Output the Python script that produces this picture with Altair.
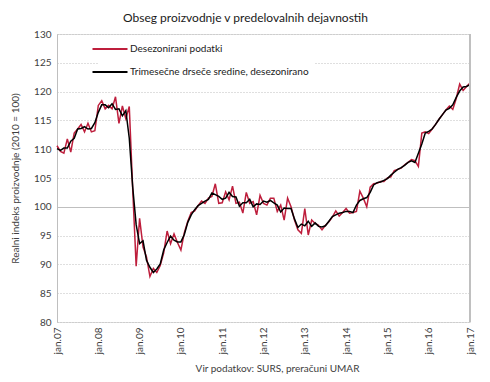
import altair as alt
import pandas as pd

tick_labels = ["jan.07", "jan.08", "jan.09", "jan.10", "jan.11", "jan.12",
               "jan.13", "jan.14", "jan.15", "jan.16", "jan.17"]
y_ticks = [80, 85, 90, 95, 100, 105, 110, 115, 120, 125, 130]
series_names = ["Desezonirani podatki", "Trimesečne drseče sredine, desezonirano"]

# month index 0 = jan.07 ... 120 = jan.17
months = list(range(121))

desezonirani = [
    110.6, 109.6, 109.3, 111.8, 109.5, 112.8, 113.5, 114.3, 113.0, 114.5, 113.0, 113.2,
    117.6, 118.4, 117.0, 117.6, 117.0, 119.1, 114.5, 117.5, 115.3, 117.4, 103.0, 89.7,
    98.0, 93.0, 91.3, 87.9, 89.3, 88.6, 89.8, 92.0, 95.8, 93.6, 95.3, 93.8,
    92.5, 95.5, 97.5, 99.0, 99.3, 100.2, 101.0, 100.6, 101.5, 101.8, 104.0, 100.6,
    100.7, 102.6, 101.2, 103.6, 100.6, 100.8, 98.9, 102.5, 100.6, 100.9, 98.6, 102.0,
    100.6, 100.3, 101.5, 101.5, 99.2, 100.3, 97.7, 101.5, 100.0, 97.7, 96.0, 95.4,
    99.7, 95.1, 97.7, 97.1, 96.8, 96.0, 96.8, 97.4, 98.2, 99.3, 98.4, 99.0,
    99.7, 98.9, 99.0, 99.2, 102.7, 101.5, 100.0, 103.4, 104.0, 104.1, 104.4, 104.4,
    105.0, 105.2, 106.3, 106.5, 106.7, 107.3, 107.7, 108.2, 108.0, 107.0, 112.8, 113.0,
    112.7, 113.5, 114.3, 115.2, 116.0, 116.8, 117.5, 116.9, 118.8, 121.3, 120.2, 120.9,
    121.5,
]

trimesecne = [
    110.1, 109.8, 110.2, 110.2, 111.4, 111.9, 113.5, 113.6, 113.9, 113.5, 113.6, 114.6,
    116.4, 117.7, 117.7, 117.2, 117.9, 116.9, 117.0, 115.8, 116.7, 111.9, 103.4, 96.9,
    93.6, 94.1, 90.7, 89.5, 88.6, 89.2, 90.1, 92.5, 93.8, 94.9, 94.2, 93.9,
    93.9, 95.2, 97.3, 98.6, 99.5, 100.2, 100.6, 101.0, 101.3, 102.4, 102.1, 101.8,
    101.3, 101.5, 102.5, 101.8, 101.7, 100.1, 100.7, 100.7, 101.3, 100.0, 100.5, 100.4,
    101.0, 100.8, 101.1, 100.7, 100.3, 99.1, 99.8, 99.7, 99.7, 97.9, 96.4, 97.0,
    96.7, 97.5, 96.6, 97.2, 96.6, 96.5, 96.7, 97.5, 98.3, 98.6, 98.9, 99.0,
    99.2, 99.2, 99.0, 100.3, 101.1, 101.4, 101.6, 102.5, 103.8, 104.2, 104.3, 104.6,
    104.9, 105.5, 106.0, 106.5, 106.8, 107.2, 107.7, 108.0, 107.7, 109.3, 110.9, 112.8,
    113.1, 113.5, 114.3, 115.2, 116.0, 116.8, 117.1, 117.7, 119.0, 120.1, 120.8, 120.9,
    121.2,
]

df = pd.DataFrame({
    "m": months + months,
    "v": desezonirani + trimesecne,
    "s": [series_names[0]] * len(months) + [series_names[1]] * len(months),
    "o": [0] * len(months) + [1] * len(months),
})

FONT = "Lato"
TXT = "#404040"
GRID = "#BFBFBF"

label_expr = "[" + ",".join("'" + t + "'" for t in tick_labels) + "][round(datum.value/12)]"

x_enc = alt.X(
    "m:Q",
    scale=alt.Scale(domain=[0, 120], nice=False, zero=False),
    axis=alt.Axis(
        values=list(range(0, 121, 12)),
        labelExpr=label_expr,
        labelAngle=270,
        ticks=False,
        domain=False,
        grid=False,
        labelFont=FONT,
        labelFontSize=10,
        labelColor=TXT,
        labelPadding=5,
        title="Vir podatkov: SURS, preračuni UMAR",
        titleFont=FONT,
        titleFontSize=10,
        titleFontWeight="normal",
        titleColor=TXT,
        titleX=220,
        titleY=46,
        titleAlign="center",
        titleBaseline="middle",
    ),
)

y_enc = alt.Y(
    "v:Q",
    scale=alt.Scale(domain=[80, 130], nice=False, zero=False),
    axis=alt.Axis(
        values=y_ticks,
        ticks=False,
        domain=True,
        domainColor=GRID,
        grid=True,
        gridColor=GRID,
        gridWidth=1,
        gridDash={"condition": {"test": "datum.value === 100", "value": []}, "value": [1, 2]},
        labelFont=FONT,
        labelFontSize=10,
        labelColor=TXT,
        labelPadding=6,
        title="Realni indeks proizvodnje (2010 = 100)",
        titleFont=FONT,
        titleFontSize=10,
        titleFontWeight="normal",
        titleColor=TXT,
        titlePadding=13,
    ),
)

color_enc = alt.Color(
    "s:N",
    scale=alt.Scale(domain=series_names, range=["#BE1E3C", "#000000"]),
    legend=alt.Legend(
        title=None,
        orient="none",
        legendX=42,
        legendY=4,
        symbolType="M-3.5,0H3.5",
        symbolSize=100,
        symbolStrokeWidth=2,
        symbolFillColor="transparent",
        labelFont=FONT,
        labelFontSize=10,
        labelColor="#1a1a1a",
        labelOffset=14,
        labelLimit=400,
        fillColor="white",
        padding=5,
        rowPadding=12,
    ),
)

lines = alt.Chart(df).mark_line(strokeWidth=1.5).encode(
    x=x_enc, y=y_enc, color=color_enc, order=alt.Order("m:Q"),
    detail="o:N",
)

right_edge = alt.Chart(df).mark_rule(color=GRID, strokeWidth=1).encode(
    x=alt.value(413), y=alt.value(0), y2=alt.value(288)
)

chart = alt.layer(lines, right_edge).properties(
    width=413,
    height=288,
    title=alt.TitleParams(
        "Obseg proizvodnje v predelovalnih dejavnostih",
        font=FONT, fontSize=12, fontWeight="normal", color="#1a1a1a",
        anchor="middle", dx=-18, offset=4,
    ),
    autosize=alt.AutoSizeParams(type="none"),
    padding={"left": 49, "top": 26, "right": 12, "bottom": 52},
).configure_view(stroke=None).configure(background="white")

chart.save("out.html", embed_options={"renderer": "svg", "actions": False})
